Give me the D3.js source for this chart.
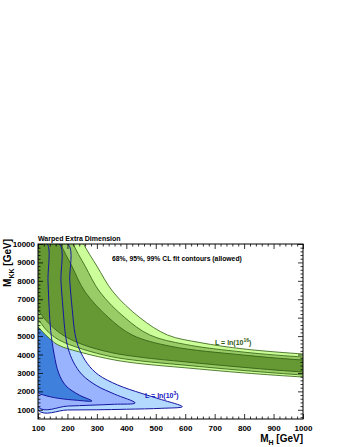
<!DOCTYPE html>
<html>
<head>
<meta charset="utf-8">
<script src="https://cdn.jsdelivr.net/npm/d3@7"></script>
<style>
  body { margin: 0; background: #fff; }
  svg text { font-family: "Liberation Sans", Arial, sans-serif; font-weight: bold; }
</style>
</head>
<body>
<svg id="drawing_region"></svg>
<script>
// axis values
const mhMajor = [100, 200, 300, 400, 500, 600, 700, 800, 900, 1000];
const mkkMajor = [1000, 2000, 3000, 4000, 5000, 6000, 7000, 8000, 9000, 10000];

// green contours, L = ln(10^16)  [M_H, M_KK]
const green99 = [[240, 10600], [255, 10000], [300, 8800], [355, 7400], [446, 6000], [540, 5060], [650, 4650], [800, 4300], [1000, 4030], [1060, 3980],
  [1060, 2740], [1000, 2780], [800, 3000], [600, 3280], [450, 3500], [361, 3700], [250, 4100], [168, 4520], [130, 5000], [100, 5500], [70, 5900], [70, 10600]];
const green95 = [[210, 10600], [220, 10000], [260, 8800], [310, 7400], [395, 6000], [480, 5060], [600, 4550], [800, 4130], [1000, 3866], [1060, 3830],
  [1060, 2850], [1000, 2889], [800, 3130], [600, 3420], [450, 3650], [350, 3880], [250, 4300], [170, 4800], [130, 5300], [100, 5900], [70, 6300], [70, 10600]];
const green68 = [[170, 10600], [178, 10000], [215, 8800], [260, 7400], [340, 6000], [420, 5060], [550, 4450], [800, 3970], [1000, 3703], [1060, 3670],
  [1060, 3020], [1000, 3052], [800, 3300], [600, 3600], [450, 3850], [350, 4100], [250, 4550], [180, 5100], [130, 5800], [100, 6400], [70, 6900], [70, 10600]];

// blue contours, L = ln(10^3)
const blue99 = [[100, 10000], [202, 10000], [208, 8000], [216, 6500], [226, 5100], [240, 4300], [268, 3500], [305, 2900], [370, 2350], [450, 1900], [520, 1550], [590, 1170],
  [520, 1080], [400, 1030], [300, 1000], [200, 990], [100, 980]];
const blue95 = [[100, 10000], [173, 10000], [178, 8000], [185, 6500], [193, 5100], [203, 4300], [220, 3600], [250, 2900], [300, 2300], [360, 1850], [430, 1370],
  [360, 1300], [280, 1250], [200, 1200], [100, 1150]];
const blue68 = [[100, 10000], [131, 10000], [134, 8000], [138, 6500], [143, 5300], [155, 4000], [170, 3000], [195, 2300], [240, 1800], [283, 1480],
  [230, 1520], [170, 1620], [120, 1800], [100, 1950]];

const config = {
  parent: '#drawing_region',
  width: 345,
  height: 447,
  left: 38, right: 303, top: 244, bottom: 419
};

const svg = d3.select(config.parent)
  .attr('width', config.width)
  .attr('height', config.height);

const x = d3.scaleLinear().domain([100, 1000]).range([config.left, config.right]);
const y = d3.scaleLinear().domain([500, 10000]).range([config.bottom, config.top]);

svg.append('clipPath').attr('id', 'plotclip')
  .append('rect')
  .attr('x', config.left).attr('y', config.top)
  .attr('width', config.right - config.left).attr('height', config.bottom - config.top);

const plot = svg.append('g').attr('clip-path', 'url(#plotclip)');

const line = d3.line()
  .x(d => x(d[0]))
  .y(d => y(d[1]))
  .curve(d3.curveCatmullRomClosed.alpha(0.5));

const blueFill = [[blue99, '#b3d9ff'], [blue95, '#99b3ff'], [blue68, '#3f80dd']];
const greenFill = [[green99, '#ccff99'], [green95, '#99cc66'], [green68, '#669933']];

blueFill.forEach(([pts, c]) => {
  plot.append('path').attr('d', line(pts)).attr('fill', c).attr('stroke', 'none');
});
greenFill.forEach(([pts, c]) => {
  plot.append('path').attr('d', line(pts)).attr('fill', c).attr('stroke', '#2f5a10').attr('stroke-width', 0.8);
});
blueFill.forEach(([pts]) => {
  plot.append('path').attr('d', line(pts)).attr('fill', 'none').attr('stroke', '#1515a0').attr('stroke-width', 1);
});

// axes, ticks inward on all sides
const mhMinor = d3.range(100, 1001, 20).filter(v => v % 100 !== 0);
const mkkMinor = d3.range(600, 10001, 200).filter(v => v % 1000 !== 0);

function ticks(axis, vals, size, tx, label) {
  const g = svg.append('g')
    .attr('transform', tx)
    .call(axis.tickValues(vals).tickSize(size).tickSizeOuter(0).tickPadding(label ? 6 : 0)
      .tickFormat(label ? d3.format('d') : ''));
  g.select('.domain').remove();
  g.selectAll('line').attr('stroke', '#000').attr('stroke-width', 0.8);
  g.selectAll('text').attr('font-size', 8).attr('fill', '#000');
  return g;
}

ticks(d3.axisBottom(x), mhMajor, -5, `translate(0,${config.bottom})`, true);
ticks(d3.axisBottom(x), mhMinor, -2.5, `translate(0,${config.bottom})`, false);
ticks(d3.axisTop(x), mhMajor, -5, `translate(0,${config.top})`, false);
ticks(d3.axisTop(x), mhMinor, -2.5, `translate(0,${config.top})`, false);
ticks(d3.axisLeft(y), mkkMajor, -5, `translate(${config.left},0)`, true)
  .selectAll('text').attr('x', -3);
ticks(d3.axisLeft(y), mkkMinor, -2.5, `translate(${config.left},0)`, false);
ticks(d3.axisRight(y), mkkMajor, -5, `translate(${config.right},0)`, false);
ticks(d3.axisRight(y), mkkMinor, -2.5, `translate(${config.right},0)`, false);

svg.append('rect')
  .attr('x', config.left).attr('y', config.top)
  .attr('width', config.right - config.left).attr('height', config.bottom - config.top)
  .attr('fill', 'none').attr('stroke', '#000').attr('stroke-width', 1);

// texts
svg.append('text').attr('x', config.left).attr('y', config.top - 3)
  .attr('font-size', 7).text('Warped Extra Dimension');

svg.append('text').attr('x', 112).attr('y', 261)
  .attr('font-size', 6.8).text('68%, 95%, 99% CL fit contours (allowed)');

const lg = svg.append('text').attr('x', 215).attr('y', 345)
  .attr('font-size', 7).attr('fill', '#2f5a10');
lg.append('tspan').text('L = ln(10');
lg.append('tspan').attr('font-size', 5).attr('dy', -3).text('16');
lg.append('tspan').attr('dy', 3).text(')');

const lb = svg.append('text').attr('x', 145).attr('y', 398)
  .attr('font-size', 7).attr('fill', '#1515c0');
lb.append('tspan').text('L = ln(10');
lb.append('tspan').attr('font-size', 5).attr('dy', -3).text('3');
lb.append('tspan').attr('dy', 3).text(')');

const xt = svg.append('text').attr('x', config.right).attr('y', 442)
  .attr('text-anchor', 'end').attr('font-size', 10);
xt.append('tspan').text('M');
xt.append('tspan').attr('font-size', 7).attr('dy', 3).text('H');
xt.append('tspan').attr('dy', -3).text(' [GeV]');

const yt = svg.append('text')
  .attr('transform', `translate(11,${config.top - 5}) rotate(-90)`)
  .attr('text-anchor', 'end').attr('font-size', 10);
yt.append('tspan').text('M');
yt.append('tspan').attr('font-size', 7).attr('dy', 3).text('KK');
yt.append('tspan').attr('dy', -3).text(' [GeV]');
</script>
</body>
</html>
